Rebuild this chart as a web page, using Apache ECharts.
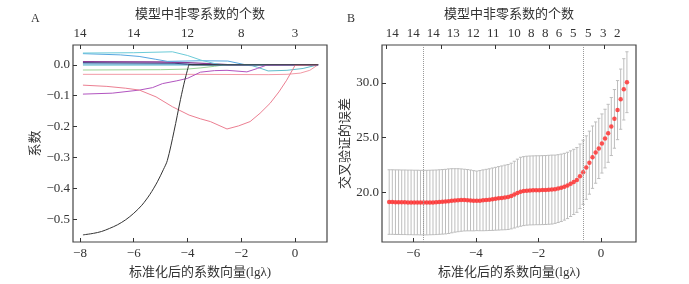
<!DOCTYPE html>
<html>
<head>
<meta charset="utf-8">
<script src="https://cdn.jsdelivr.net/npm/echarts@6/dist/echarts.min.js"></script>
<style>
html, body { margin: 0; padding: 0; background: #fff; }
#main { width: 689px; height: 284px; }
</style>
</head>
<body>
<div id="main"></div>
<script>
// ---- A：系数路径 [lgλ, 系数] ----
var pathBlack = [[-7.89,-0.551],[-7.5,-0.546],[-7.2,-0.540],[-6.9,-0.530],[-6.6,-0.518],[-6.3,-0.502],[-6.0,-0.481],[-5.7,-0.455],[-5.4,-0.42],[-5.12,-0.379],[-4.9,-0.34],[-4.75,-0.31],[-4.5,-0.215],[-4.26,-0.112],[-4.1,-0.05],[-3.95,0]]
var pathPink = [[-7.89,-0.066],[-7,-0.07],[-6.3,-0.076],[-5.79,-0.082],[-5.17,-0.104],[-4.56,-0.136],[-3.94,-0.163],[-3.52,-0.175],[-3.15,-0.184],[-2.53,-0.208],[-2.1,-0.198],[-1.67,-0.184],[-1.3,-0.157],[-0.93,-0.125],[-0.6,-0.088],[-0.31,-0.05],[0,-0.002],[0.86,0]]
var pathLightPink = [[-7.89,-0.031],[-4,-0.031],[-1,-0.032],[-0.3,-0.031],[0.2,-0.027],[0.55,-0.018],[0.86,0]]
var pathGreen = [[-7.89,-0.017],[-5,-0.016],[-4,-0.014],[-3.5,-0.010],[-3.0,-0.005],[-2.6,0],[0.86,0]]
var pathBlue = [[-7.89,0.036],[-6.5,0.032],[-5.8,0.027],[-5.2,0.018],[-4.75,0.011],[-3.5,0.013],[-2.5,0.012],[-1.9,0.001],[-1.8,0],[0.86,0]]
var pathCyan = [[-7.89,0.038],[-6,0.039],[-4.56,0.042],[-4.0,0.03],[-3.5,0.015],[-3.0,0.004],[-2.7,0],[0.86,0]]
var pathTeal = [[-7.89,-0.001],[-2,-0.001],[-1.6,-0.003],[-1.4,-0.008],[-1.0,-0.020],[-0.3,-0.018],[0.3,-0.012],[0.86,0]]
var pathMagenta = [[-7.89,-0.095],[-6.8,-0.092],[-5.79,-0.082],[-5.3,-0.074],[-4.93,-0.061],[-4.4,-0.052],[-4.0,-0.044],[-3.52,-0.024],[-3.0,-0.019],[-2.53,-0.018],[-1.79,-0.023],[-1.4,-0.012],[-1.05,-0.001],[-1.0,0],[0.86,0]]
var pathPurple = [[-7.89,0.010],[-5,0.009],[-4,0.007],[-3,0.003],[-2.5,0],[0.86,0]]
var pathNavy = [[-7.89,0.007],[-4.5,0.005],[-4,0.002],[-3.8,0],[0.86,0]]
var pathBlue2 = [[-7.89,0.003],[-4,0.002],[-3.2,0],[0.86,0]]
var pathZero = [[-3.95,0],[0.86,0]]

var aTicks = [-8, -6, -4, -2, 0]
var aTopCounts = ['14', '14', '12', '8', '3']
var aYTicks = [0, -0.1, -0.2, -0.3, -0.4, -0.5]

// ---- B：交叉验证误差 ----
var lgLambda = [-6.77,-6.67,-6.57,-6.47,-6.37,-6.27,-6.17,-6.07,-5.97,-5.87,-5.77,-5.67,-5.57,-5.47,-5.37,-5.27,-5.17,-5.07,-4.97,-4.87,-4.77,-4.67,-4.57,-4.47,-4.37,-4.27,-4.17,-4.07,-3.97,-3.87,-3.77,-3.67,-3.57,-3.47,-3.37,-3.27,-3.17,-3.07,-2.97,-2.87,-2.77,-2.67,-2.57,-2.47,-2.37,-2.27,-2.17,-2.07,-1.97,-1.87,-1.77,-1.67,-1.57,-1.47,-1.37,-1.27,-1.17,-1.07,-0.97,-0.87,-0.77,-0.67,-0.57,-0.47,-0.37,-0.27,-0.17,-0.07,0.03,0.13,0.23,0.33,0.43,0.53,0.63,0.73,0.83]
var cvMean = [19.10,19.10,19.09,19.09,19.08,19.08,19.07,19.07,19.06,19.06,19.05,19.05,19.05,19.06,19.07,19.08,19.10,19.12,19.14,19.18,19.22,19.25,19.27,19.28,19.28,19.27,19.25,19.22,19.21,19.23,19.26,19.29,19.32,19.36,19.40,19.44,19.48,19.52,19.56,19.65,19.78,19.92,20.04,20.10,20.14,20.16,20.17,20.18,20.18,20.19,20.20,20.22,20.24,20.27,20.33,20.40,20.50,20.62,20.78,20.94,21.12,21.45,21.82,22.25,22.70,23.20,23.62,24.00,24.45,24.90,25.38,26.00,26.70,27.50,28.50,29.40,30.05]
var cvSe = [2.95,2.95,2.95,2.95,2.95,2.95,2.95,2.95,2.95,2.95,2.95,2.95,2.95,2.95,2.95,2.95,2.95,2.95,2.95,2.95,2.93,2.9,2.88,2.85,2.82,2.8,2.78,2.75,2.72,2.75,2.78,2.8,2.82,2.85,2.87,2.9,2.92,2.95,2.97,3.0,3.05,3.1,3.15,3.15,3.15,3.15,3.15,3.15,3.15,3.15,3.15,3.15,3.15,3.12,3.1,3.08,3.05,3.03,3.0,2.98,2.96,2.95,2.93,2.9,2.88,2.85,2.8,2.75,2.7,2.68,2.65,2.65,2.68,2.7,2.75,2.8,2.78]
var lambdaMin = -5.68
var lambda1se = -0.57

var bTicks = [-6, -4, -2, 0]
var bYTicks = [20, 25, 30]
var bTopTicks = [-6.86, -5.11, -3.38, -1.65, 0.10]
var bTopPos = [-6.67, -6.0, -5.36, -4.72, -4.08, -3.44, -2.77, -2.23, -1.78, -1.34, -0.89, -0.41, 0.07, 0.52]
var bTopCounts = ['14', '14', '14', '13', '12', '11', '10', '8', '8', '6', '5', '5', '3', '2']

var serif = "'Liberation Serif', 'Noto Sans CJK SC', serif"
var textColor = '#333'

function minus(s) {
	return String(s).replace('-', '\u2212')
}
function lookup(pos, labels) {
	return function(v) {
		for (var i = 0; i < pos.length; i++) {
			if (Math.abs(pos[i] - v) < 1e-6) return labels[i]
		}
		return ''
	}
}

function xAxisOf(grid, min, max, ticks, labelPos, formatter, top, name) {
	return {
		type: 'value',
		gridIndex: grid,
		position: top ? 'top' : 'bottom',
		min: min,
		max: max,
		name: name,
		nameLocation: 'middle',
		nameGap: 24,
		nameTextStyle: { fontFamily: serif, fontSize: 13, color: textColor },
		axisLine: { show: false, onZero: false },
		splitLine: { show: false },
		axisTick: { show: true, inside: true, length: 4, customValues: ticks, lineStyle: { color: '#333', width: 1 } },
		axisLabel: { show: true, customValues: labelPos, formatter: formatter, margin: 5, fontFamily: serif, fontSize: 13, color: textColor }
	}
}
function yAxisOf(grid, min, max, ticks, formatter, name, gap) {
	return {
		type: 'value',
		gridIndex: grid,
		position: 'left',
		min: min,
		max: max,
		name: name,
		nameLocation: 'middle',
		nameRotate: 90,
		nameGap: gap,
		nameTextStyle: { fontFamily: serif, fontSize: 13, color: textColor },
		axisLine: { show: false, onZero: false },
		splitLine: { show: false },
		axisTick: { show: true, inside: true, length: 4, customValues: ticks, lineStyle: { color: '#333', width: 1 } },
		axisLabel: { show: true, customValues: ticks, formatter: formatter, margin: 3, fontFamily: serif, fontSize: 13, color: textColor }
	}
}

function pathSeries(data, color, width, smooth) {
	return {
		type: 'line',
		xAxisIndex: 0,
		yAxisIndex: 0,
		data: data,
		showSymbol: false,
		symbol: 'none',
		smooth: smooth || false,
		lineStyle: { color: color, width: width || 1 },
		silent: true,
		z: 2
	}
}

var barData = lgLambda.map(function(x, i) {
	return [x, cvMean[i] - cvSe[i], cvMean[i] + cvSe[i]]
})
var meanData = lgLambda.map(function(x, i) {
	return [x, cvMean[i]]
})

var option = {
	animation: false,
	backgroundColor: '#fff',
	graphic: [
		{ type: 'text', left: 31, top: 13, style: { text: 'A', font: "12px 'Liberation Serif'", fill: textColor } },
		{ type: 'text', left: 347, top: 13, style: { text: 'B', font: "12px 'Liberation Serif'", fill: textColor } }
	],
	grid: [
		{ left: 73, top: 45, width: 254, height: 199, show: true, borderColor: '#444', borderWidth: 1.2, backgroundColor: 'transparent' },
		{ left: 382, top: 45, width: 254, height: 198, show: true, borderColor: '#444', borderWidth: 1.2, backgroundColor: 'transparent' }
	],
	xAxis: [
		xAxisOf(0, -8.26, 1.19, aTicks, aTicks, minus, false, '标准化后的系数向量(lgλ)'),
		xAxisOf(0, -8.26, 1.19, aTicks, aTicks, lookup(aTicks, aTopCounts), true, '模型中非零系数的个数'),
		xAxisOf(1, -7.0, 1.12, bTicks, bTicks, minus, false, '标准化后的系数向量(lgλ)'),
		xAxisOf(1, -7.0, 1.12, bTopTicks, bTopPos, lookup(bTopPos, bTopCounts), true, '模型中非零系数的个数')
	],
	yAxis: [
		yAxisOf(0, -0.574, 0.064, aYTicks, function(v) { return minus(v.toFixed(1)) }, '系数', 30),
		yAxisOf(1, 15.45, 33.45, bYTicks, function(v) { return v.toFixed(1) }, '交叉验证的误差', 28)
	],
	series: [
		pathSeries(pathLightPink, '#f29aa6'),
		pathSeries(pathGreen, '#99d494'),
		pathSeries(pathTeal, '#5fbccb'),
		pathSeries(pathBlue2, '#4a90c8'),
		pathSeries(pathNavy, '#34407a'),
		pathSeries(pathPurple, '#8b3f96', 1.4),
		pathSeries(pathBlue, '#56a6e0'),
		pathSeries(pathCyan, '#6ccbd8'),
		pathSeries(pathMagenta, '#b255c0'),
		pathSeries(pathPink, '#ec7f92'),
		pathSeries(pathBlack, '#333333', 1, 0.3),
		pathSeries(pathZero, '#333333'),
		{
			type: 'custom',
			xAxisIndex: 2,
			yAxisIndex: 1,
			data: barData,
			encode: { x: 0, y: [1, 2] },
			silent: true,
			renderItem: function(params, api) {
				var x = api.value(0)
				var lo = api.coord([x, api.value(1)])
				var hi = api.coord([x, api.value(2)])
				var hw = 1.6
				var st = { stroke: '#bdbdbd', lineWidth: 1 }
				return {
					type: 'group',
					children: [
						{ type: 'line', shape: { x1: lo[0], y1: lo[1], x2: hi[0], y2: hi[1] }, style: st },
						{ type: 'line', shape: { x1: lo[0] - hw, y1: lo[1], x2: lo[0] + hw, y2: lo[1] }, style: st },
						{ type: 'line', shape: { x1: hi[0] - hw, y1: hi[1], x2: hi[0] + hw, y2: hi[1] }, style: st }
					]
				}
			},
			z: 2
		},
		{
			type: 'scatter',
			xAxisIndex: 2,
			yAxisIndex: 1,
			data: meanData,
			symbol: 'circle',
			symbolSize: 4.5,
			itemStyle: { color: '#ff2b2b' },
			silent: true,
			z: 3,
			markLine: {
				silent: true,
				symbol: ['none', 'none'],
				label: { show: false },
				lineStyle: { type: 'dotted', color: '#999', width: 1 },
				data: [{ xAxis: lambdaMin }, { xAxis: lambda1se }]
			}
		}
	]
}

var myChart = echarts.init(document.getElementById('main'))
myChart.setOption(option)
</script>
</body>
</html>
